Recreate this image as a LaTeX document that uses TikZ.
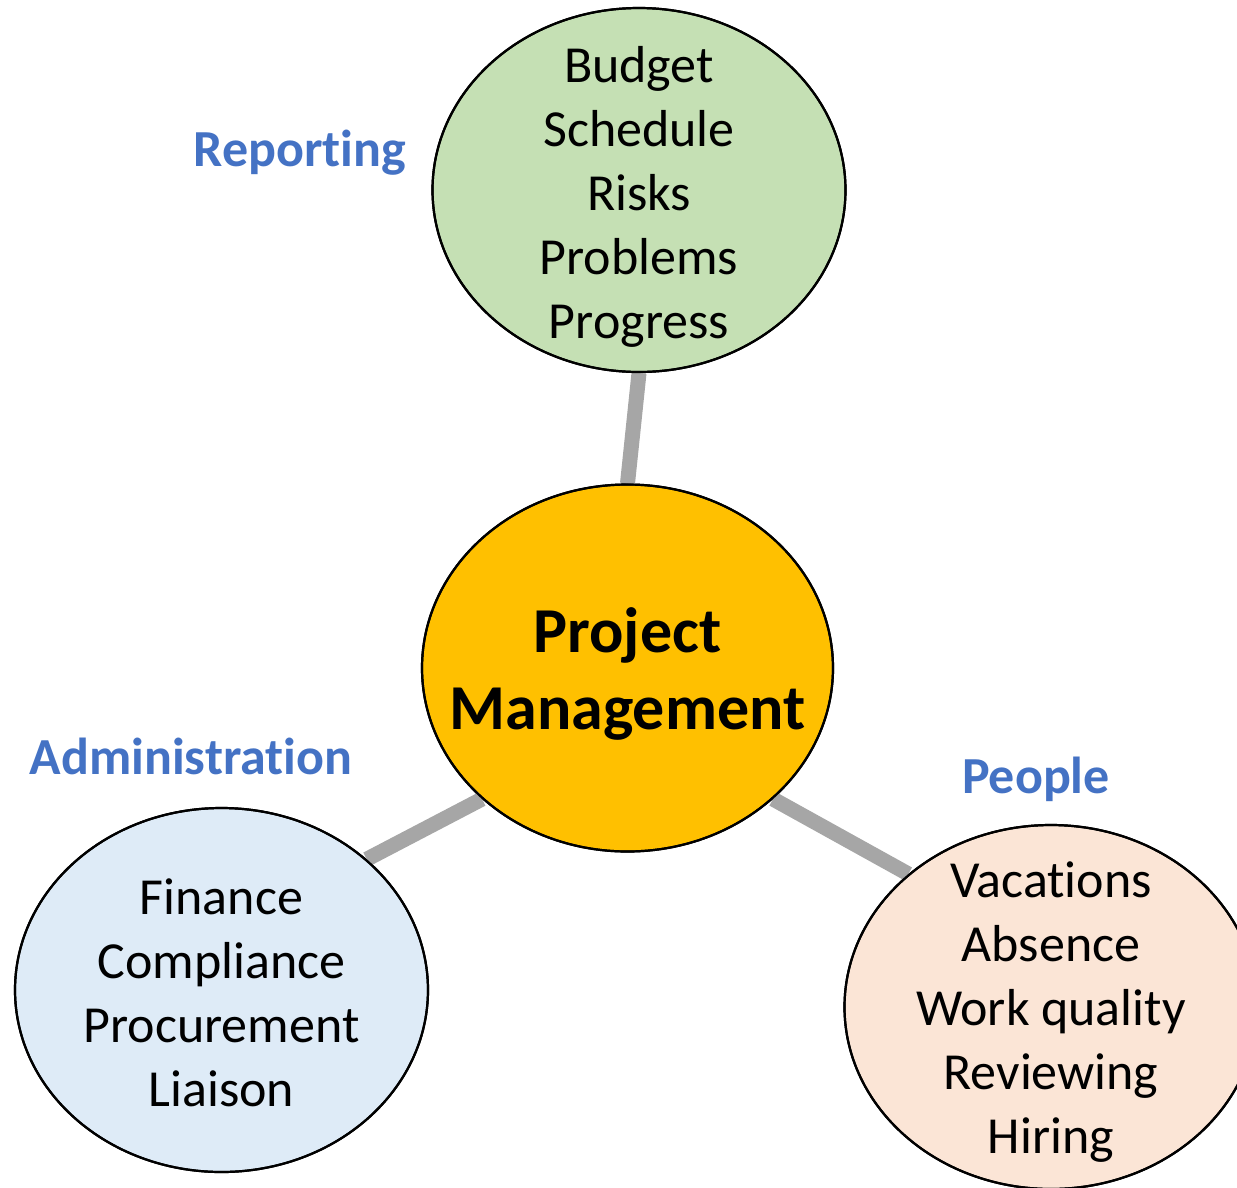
\documentclass[tikz,border=0pt]{standalone}
\usepackage{fontspec}
\setmainfont{Carlito}[RawFeature={-liga}]
\usetikzlibrary{shapes.geometric}
\definecolor{cgreen}{HTML}{C5E0B4}
\definecolor{corange}{HTML}{FFC000}
\definecolor{cblue}{HTML}{DEEBF7}
\definecolor{cpeach}{HTML}{FBE5D6}
\definecolor{cgray}{HTML}{A6A6A6}
\definecolor{labelblue}{HTML}{4472C4}
\tikzset{
  bubble/.style={ellipse, draw=black, line width=2.2pt, inner sep=0pt,
    minimum width=413pt, minimum height=364pt},
  btext/.style={align=center, inner sep=0pt, font=\fontsize{52}{64}\selectfont},
  link/.style={draw=cgray, line width=15pt},
  tag/.style={text=labelblue, font=\fontsize{52}{64}\selectfont\bfseries, inner sep=0pt}
}
\begin{document}
\begin{tikzpicture}[x=1pt,y=-1pt]
\useasboundingbox (0,0) rectangle (1237,1187);
\clip (0,0) rectangle (1237,1187);
\node[bubble, fill=cgreen] (rep) at (639,190) {};
\node[bubble, fill=corange, minimum width=411pt, minimum height=367pt] (pm) at (627.5,668) {};
\node[bubble, fill=cblue] (adm) at (221.5,990) {};
\node[bubble, fill=cpeach] (peo) at (1051,1007) {};
\draw[link] (rep.270) -- (pm.90);
\draw[link] (adm.42) -- (pm.222);
\draw[link] (pm.318) -- (peo.137);
\node[bubble] (repo) at (rep) {};
\node[bubble, minimum width=411pt, minimum height=367pt] (pmo) at (pm) {};
\node[bubble] (admo) at (adm) {};
\node[bubble] (peoo) at (peo) {};
\node[btext] (rept) at (639,197) {Budget\\Schedule\\Risks\\Problems\\Progress};
\node[btext, font=\fontsize{64}{77}\selectfont\bfseries] (pmt) at (627.5,674) {Project\\Management};
\node[btext] (admt) at (221.5,993) {Finance\\Compliance\\Procurement\\Liaison};
\node[btext] (peot) at (1051,1012) {Vacations\\Absence\\Work quality\\Reviewing\\Hiring};
\node[tag] (t1) at (300,153) {Reporting};
\node[tag] (t2) at (191,756) {Administration};
\node[tag] (t3) at (1036,779) {People};
\end{tikzpicture}
\end{document}
